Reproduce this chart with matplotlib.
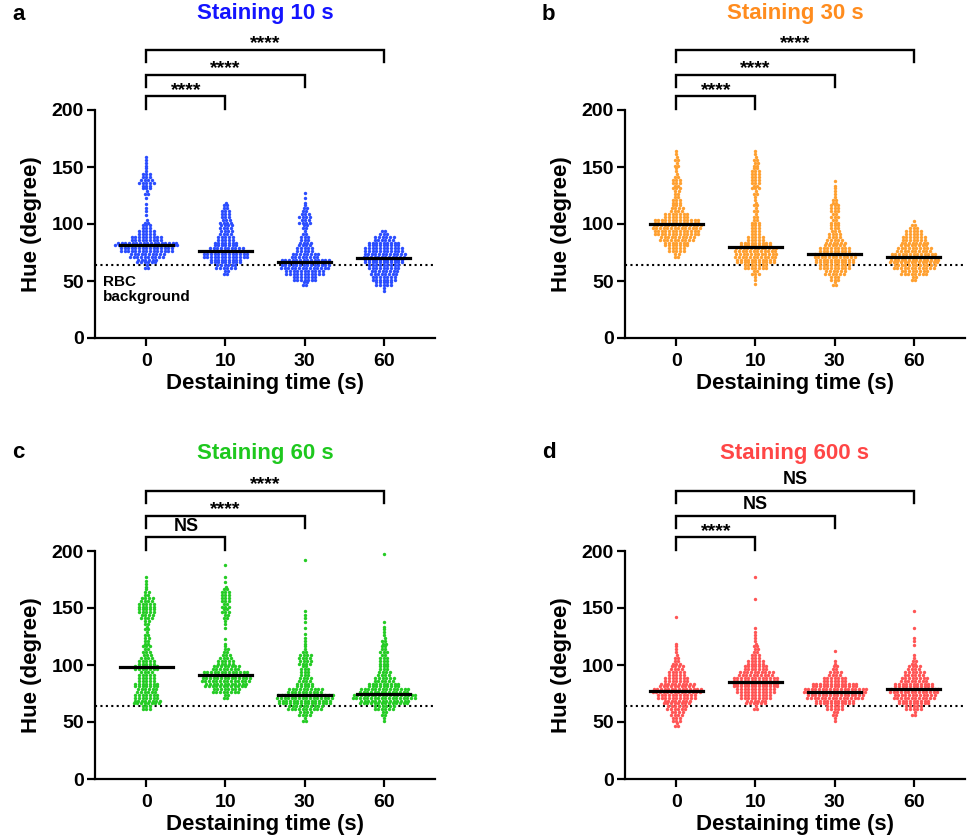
import numpy as np
import matplotlib
matplotlib.use('Agg')
import matplotlib.pyplot as plt

plt.rcParams['font.family'] = ['Liberation Sans', 'DejaVu Sans']
plt.rcParams['font.weight'] = 'bold'

# Data: dot counts per 5-degree hue bin (lower edge)
hue_bins = list(range(40, 200, 5))
destain_labels = ['0', '10', '30', '60']

a_counts = [
    [0, 0, 0, 0, 3, 12, 20, 30, 35, 18, 10, 6, 3, 1, 2, 1, 1, 3, 6, 9, 6, 2, 2, 2, 0, 0, 0, 0, 0, 0, 0, 0],
    [0, 0, 0, 4, 12, 18, 26, 20, 14, 10, 8, 8, 7, 6, 5, 3, 0, 0, 0, 0, 0, 0, 0, 0, 0, 0, 0, 0, 0, 0, 0, 0],
    [0, 4, 14, 22, 28, 28, 16, 10, 8, 6, 3, 4, 7, 7, 4, 2, 1, 1, 0, 0, 0, 0, 0, 0, 0, 0, 0, 0, 0, 0, 0, 0],
    [2, 10, 14, 16, 18, 22, 24, 22, 18, 12, 5, 0, 0, 0, 0, 0, 0, 0, 0, 0, 0, 0, 0, 0, 0, 0, 0, 0, 0, 0, 0, 0],
]
b_counts = [
    [0, 0, 0, 0, 0, 0, 4, 10, 14, 20, 26, 28, 26, 14, 8, 6, 5, 4, 5, 6, 3, 2, 3, 3, 2, 0, 0, 0, 0, 0, 0, 0],
    [0, 1, 2, 5, 14, 22, 24, 24, 18, 10, 6, 6, 5, 3, 3, 3, 2, 3, 5, 6, 6, 5, 4, 3, 2, 0, 0, 0, 0, 0, 0, 0],
    [0, 3, 6, 12, 18, 22, 24, 18, 12, 9, 7, 6, 5, 5, 6, 5, 3, 2, 2, 1, 0, 0, 0, 0, 0, 0, 0, 0, 0, 0, 0, 0],
    [0, 0, 4, 16, 24, 28, 26, 20, 16, 14, 10, 5, 1, 0, 0, 0, 0, 0, 0, 0, 0, 0, 0, 0, 0, 0, 0, 0, 0, 0, 0, 0],
]
c_counts = [
    [0, 0, 0, 0, 6, 16, 14, 12, 14, 10, 9, 14, 10, 7, 5, 5, 4, 3, 3, 4, 8, 10, 10, 8, 4, 2, 2, 1, 0, 0, 0, 0],
    [0, 0, 0, 0, 0, 0, 4, 16, 24, 28, 26, 16, 10, 7, 4, 2, 1, 0, 1, 2, 4, 5, 5, 6, 6, 3, 1, 1, 0, 1, 0, 0],
    [0, 0, 3, 8, 20, 30, 32, 20, 10, 8, 6, 5, 8, 8, 3, 2, 2, 1, 1, 1, 2, 1, 0, 0, 0, 0, 0, 0, 0, 0, 1, 0],
    [0, 0, 2, 4, 12, 28, 36, 28, 18, 12, 8, 6, 6, 5, 5, 4, 3, 2, 2, 1, 0, 0, 0, 0, 0, 0, 0, 0, 0, 0, 0, 1],
]
d_counts = [
    [0, 3, 6, 8, 12, 16, 22, 28, 20, 14, 10, 8, 5, 3, 2, 2, 0, 0, 0, 0, 1, 0, 0, 0, 0, 0, 0, 0, 0, 0, 0, 0],
    [0, 0, 0, 0, 3, 12, 18, 22, 26, 26, 20, 14, 10, 6, 4, 3, 2, 2, 1, 0, 0, 0, 0, 1, 0, 0, 0, 1, 0, 0, 0, 0],
    [0, 0, 2, 4, 10, 22, 32, 36, 26, 14, 8, 4, 2, 0, 1, 0, 0, 0, 0, 0, 0, 0, 0, 0, 0, 0, 0, 0, 0, 0, 0, 0],
    [0, 0, 0, 3, 10, 18, 24, 28, 22, 16, 12, 8, 4, 2, 0, 1, 2, 0, 1, 0, 0, 1, 0, 0, 0, 0, 0, 0, 0, 0, 0, 0],
]

# medians (black bars)
a_medians = [82, 76, 67, 70]
b_medians = [100, 80, 74, 71]
c_medians = [98, 91, 74, 75]
d_medians = [77, 85, 76, 79]

# significance, brackets 0-10, 0-30, 0-60
a_sig = ['****', '****', '****']
b_sig = ['****', '****', '****']
c_sig = ['NS', '****', '****']
d_sig = ['****', 'NS', 'NS']

rbc_background = 64

W, H = 969, 836
fig = plt.figure(figsize=(W / 100, H / 100), dpi=100)


def swarm(ax, xc, counts, color):
    # Prism-like rows: two staggered rows of dots per 5-degree bin
    dx = 0.046
    xs, ys = [], []
    for lo, n in zip(hue_bins, counts):
        if n == 0:
            continue
        if n == 1:
            rows = [(lo + 2.5, 1, 0)]
        else:
            rows = [(lo + 1.25, n - n // 2, 0), (lo + 3.75, n // 2, 0.5)]
        for y, k, shift in rows:
            for i in range(k):
                off = (i - (k - 1) / 2) * dx
                if k % 2 == (n % 2):
                    off += shift * dx * 0.5
                xs.append(xc + off)
                ys.append(y)
    ax.scatter(xs, ys, s=6, color=color, linewidths=0, zorder=2)


def panel(left_px, bottom_px, title_px, counts, medians, sig, dot_color, title, title_color, letter,
          rbc_text=False):
    ax = fig.add_axes([left_px / W, (H - bottom_px) / H, 340 / W, 228 / H])
    for i, c in enumerate(counts):
        swarm(ax, i, c, dot_color)
        ax.plot([i - 0.34, i + 0.34], [medians[i], medians[i]], color='black', lw=2.3, zorder=3)
    ax.axhline(rbc_background, color='black', ls=(0, (1, 1.6)), lw=1.5, zorder=1)

    ax.set_xlim(-0.65, 3.65)
    ax.set_ylim(0, 200)
    ax.set_yticks([0, 50, 100, 150, 200])
    ax.set_xticks(range(4))
    ax.set_xticklabels(destain_labels)
    for s in ['top', 'right']:
        ax.spines[s].set_visible(False)
    for s in ['left', 'bottom']:
        ax.spines[s].set_linewidth(1.6)
    ax.tick_params(direction='out', length=6, width=1.6, labelsize=14, pad=2)
    ax.tick_params(axis='x', pad=5)
    ax.set_ylabel('Hue (degree)', fontsize=16, fontweight='bold', labelpad=7)
    ax.set_xlabel('Destaining time (s)', fontsize=16, fontweight='bold', labelpad=2)

    # significance brackets
    for j, (top, lab) in enumerate(zip([212, 231, 253], sig)):
        x2 = j + 1
        ax.plot([0, 0, x2, x2], [top - 11, top, top, top - 11], color='black', lw=1.7,
                clip_on=False, solid_joinstyle='miter')
        if lab == 'NS':
            ax.text(x2 / 2, top + 9.5, lab, ha='center', va='center', fontsize=13, fontweight='bold')
        else:
            ax.text(x2 / 2, top + 5, lab, ha='center', va='center', fontsize=14, fontweight='bold')

    if rbc_text:
        ax.text(-0.55, 49, 'RBC', ha='left', va='center', fontsize=11, fontweight='bold')
        ax.text(-0.55, 36, 'background', ha='left', va='center', fontsize=11, fontweight='bold')

    fig.text((left_px + 170) / W, 1 - title_px / H, title, ha='center', va='center',
             color=title_color, fontsize=16, fontweight='bold')
    fig.text((left_px - 83) / W, 1 - title_px / H, letter, ha='left', va='center',
             fontsize=16, fontweight='bold')
    return ax


panel(95, 338, 14, a_counts, a_medians, a_sig, '#2b4dff', 'Staining 10 s', '#1414ff', 'a', rbc_text=True)
panel(625, 338, 14, b_counts, b_medians, b_sig, '#ffa030', 'Staining 30 s', '#ff8c1e', 'b')
panel(95, 779, 453, c_counts, c_medians, c_sig, '#25cc25', 'Staining 60 s', '#1ec81e', 'c')
panel(625, 779, 453, d_counts, d_medians, d_sig, '#ff5555', 'Staining 600 s', '#ff4646', 'd')

plt.savefig('out.png', dpi=100)
